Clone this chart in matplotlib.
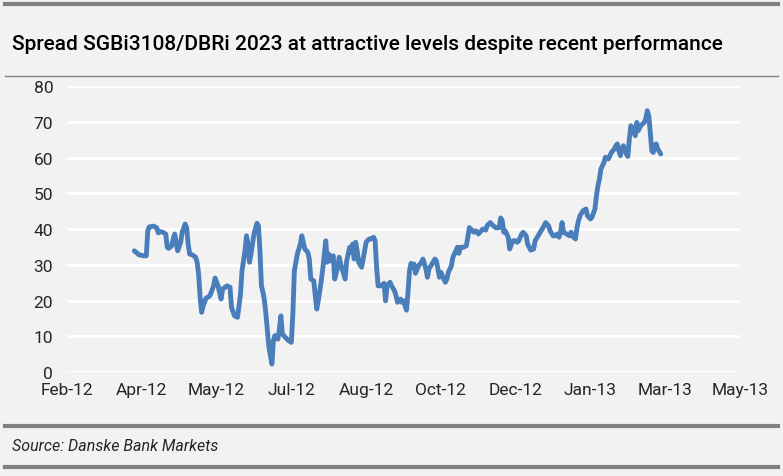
import numpy as np
import matplotlib.pyplot as plt
import matplotlib.dates as mdates
from matplotlib.lines import Line2D

# spread in bp, x given as days after 1 Jan 2012
base_date = np.datetime64('2012-01-01')
days = [88, 90, 91, 94, 96, 97, 98, 101, 103, 104, 105, 107, 109, 110, 111, 113, 114, 115, 116, 117,
        119, 120, 122, 123, 124, 125, 127, 129, 130, 131, 132, 133, 134, 136, 138, 139, 141, 142, 144, 146,
        147, 150, 152, 153, 155, 157, 159, 160, 162, 163, 164, 165, 166, 168, 170, 171, 172, 173, 174, 175,
        176, 177, 178, 180, 181, 182, 184, 185, 186, 187, 189, 191, 193, 194, 195, 197, 199, 200, 202, 204,
        205, 206, 208, 209, 210, 211, 213, 214, 216, 217, 218, 219, 221, 222, 224, 225, 226, 229, 230, 232,
        233, 234, 235, 236, 237, 238, 240, 241, 242, 243, 245, 246, 248, 249, 250, 251, 253, 255, 256, 257,
        259, 260, 262, 263, 264, 266, 267, 268, 270, 271, 272, 273, 274, 275, 276, 278, 280, 281, 283, 284,
        285, 287, 289, 290, 291, 292, 293, 294, 296, 297, 298, 300, 301, 303, 304, 305, 306, 308, 310, 311,
        312, 313, 315, 316, 317, 318, 320, 321, 323, 324, 326, 328, 330, 332, 333, 334, 335, 336, 338, 339,
        341, 343, 344, 345, 347, 348, 350, 351, 353, 355, 356, 358, 360, 362, 363, 365, 366, 368, 369, 371,
        372, 373, 374, 375, 377, 379, 380, 381, 383, 384, 385, 386, 388, 390, 391, 393, 394, 396, 397, 398,
        399, 400, 401, 402, 403, 405, 406, 407, 409, 410, 411, 412, 413, 414, 415, 417, 418, 419, 420, 421,
        422, 423, 424, 425, 426, 427, 429, 430, 431, 432, 433, 434, 435, 436, 437, 438, 440]
spread = [33.9, 33.2, 32.8, 32.5, 32.5, 39.5, 40.6, 40.8, 40.3, 38.9, 39.3, 39.1, 38.6, 34.9, 34.6, 35.3, 37.2, 38.6, 36.3, 33.9,
          36.3, 39.1, 41.4, 40.3, 35.8, 33.0, 32.7, 32.1, 30.7, 27.4, 20.9, 16.7, 18.5, 20.7, 21.1, 21.8, 24.1, 26.3, 24.1, 20.4,
          23.2, 24.1, 23.7, 18.1, 15.7, 15.3, 21.8, 28.3, 33.9, 38.1, 35.8, 30.7, 33.0, 38.6, 41.6, 40.9, 33.9, 24.1, 22.3, 20.0,
          16.2, 11.6, 6.9, 2.2, 8.8, 10.2, 9.2, 12.0, 15.7, 10.6, 9.7, 8.8, 8.3, 16.2, 28.3, 33.0, 35.8, 38.1, 34.4, 33.5,
          31.6, 26.0, 25.5, 21.3, 17.6, 19.9, 25.5, 28.8, 36.7, 30.7, 33.0, 31.1, 32.5, 26.0, 29.3, 32.1, 30.2, 26.0, 31.1, 34.9,
          33.5, 35.8, 31.6, 36.3, 33.9, 30.7, 29.3, 31.6, 33.9, 36.3, 37.2, 37.2, 37.7, 36.7, 29.3, 24.1, 24.1, 24.8, 19.9, 24.1,
          25.1, 24.1, 22.7, 21.3, 19.5, 20.4, 19.5, 19.9, 17.3, 22.3, 28.3, 30.4, 29.3, 30.2, 27.6, 29.7, 30.7, 31.6, 28.8, 26.5,
          28.8, 30.2, 31.6, 31.1, 28.8, 26.5, 27.9, 26.9, 25.1, 26.0, 27.9, 29.7, 32.1, 33.9, 34.9, 33.2, 34.9, 34.9, 35.3, 37.7,
          40.4, 40.0, 39.1, 39.5, 39.3, 38.6, 39.5, 40.0, 39.7, 41.0, 41.8, 40.9, 40.3, 40.4, 43.1, 42.3, 39.1, 39.5, 37.7, 34.4,
          36.7, 36.7, 36.3, 36.7, 38.6, 39.1, 38.1, 35.8, 34.1, 34.4, 36.7, 38.1, 39.5, 40.9, 41.8, 40.9, 39.5, 38.1, 38.1, 38.6,
          37.7, 39.1, 41.8, 39.1, 38.6, 38.1, 39.1, 38.0, 37.2, 40.4, 42.3, 43.7, 45.1, 45.6, 43.7, 42.8, 43.3, 45.6, 49.3, 52.1,
          54.0, 56.8, 57.7, 58.6, 60.1, 59.6, 60.5, 61.4, 62.4, 63.3, 63.8, 61.9, 60.5, 62.4, 63.3, 61.0, 60.3, 65.2, 68.9, 68.4,
          67.0, 66.1, 69.8, 67.5, 68.4, 69.1, 69.8, 70.8, 73.1, 71.7, 67.0, 61.9, 61.4, 63.3, 63.8, 62.4, 61.0]

dates = base_date + np.array(days).astype('timedelta64[D]')

title = "Spread SGBi3108/DBRi 2023 at attractive levels despite recent performance"
source = "Source: Danske Bank Markets"
tick_dates = np.datetime64('2012-02-13') + np.arange(10) * np.timedelta64(50, 'D')
yticks = np.arange(0, 90, 10)

bg = '#f2f2f2'
frame = '#808080'
blue = '#4a7ebb'

fig = plt.figure(figsize=(7.83, 4.77), dpi=100, facecolor=bg)
plt.rcParams['font.family'] = ['Roboto', 'DejaVu Sans']

ax = fig.add_axes([0.0856, 0.218, 0.8595, 0.5996])
ax.set_facecolor(bg)
ax.plot(dates, spread, color=blue, lw=3.5, solid_joinstyle='round', solid_capstyle='round', zorder=3)

ax.set_xlim(tick_dates[0], tick_dates[-1])
ax.set_ylim(0, 80)
ax.set_xticks(tick_dates)
ax.xaxis.set_major_formatter(mdates.DateFormatter('%b-%y'))
ax.set_yticks(yticks)
ax.grid(axis='y', color='white', lw=2)
ax.set_axisbelow(True)
for s in ax.spines.values():
    s.set_visible(False)
ax.tick_params(length=0, labelsize=12.5, colors='#262626', pad=7)
ax.tick_params(axis='y', pad=10)

# frame lines and texts
fig.add_artist(Line2D([5/783, 778/783], [1 - 5/477, 1 - 5/477], color=frame, lw=3))
fig.add_artist(Line2D([5/783, 778/783], [1 - 77/477, 1 - 77/477], color=frame, lw=1))
fig.add_artist(Line2D([5/783, 778/783], [1 - 427/477, 1 - 427/477], color=frame, lw=3))
fig.add_artist(Line2D([5/783, 778/783], [1 - 468/477, 1 - 468/477], color=frame, lw=3))
fig.text(12/783, 1 - 45/477, title, fontsize=15, fontweight='medium', va='center', ha='left', color='black')
fig.text(12/783, 1 - 447/477, source, fontsize=11.5, style='italic', va='center', ha='left', color='#262626')

plt.savefig('out.png', dpi=100, facecolor=bg)
